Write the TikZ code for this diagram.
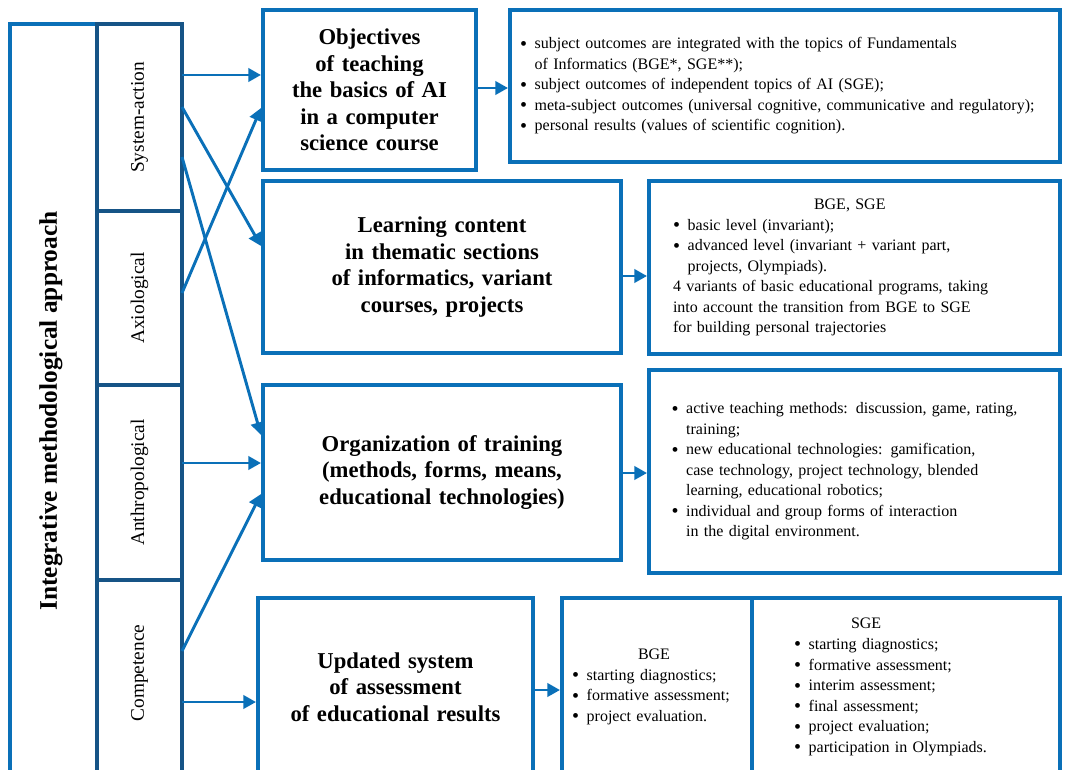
\documentclass[tikz,border=0pt]{standalone}
\usepackage{fontspec}
\setmainfont{Liberation Serif}
\usepackage{graphicx}
\usetikzlibrary{positioning,arrows.meta}
\definecolor{boxblue}{RGB}{10,112,184}
\definecolor{colblue}{RGB}{22,84,134}
\newcommand{\itm}{\makebox[11pt][l]{\raisebox{-0.2ex}{\scalebox{1.25}{\textbullet}}}}
\newcommand{\cont}{\hspace*{11pt}}

\begin{document}
\begin{tikzpicture}[x=0.75pt,y=-0.75pt,
  box/.style={draw=boxblue, line width=3pt, fill=white, align=center},
  colbox/.style={draw=colblue, line width=2.6pt, fill=white, outer sep=0pt,
    minimum width=63.75pt, font=\fontsize{14.5}{17}\selectfont},
  head/.style={box, font=\fontsize{17}{19.9}\selectfont\bfseries},
  list/.style={box, align=left, inner sep=0pt, font=\fontsize{12}{15.4}\selectfont},
  arr/.style={draw=boxblue, line width=2.2pt, -{Triangle[length=9.5pt,width=10pt]}}]
\useasboundingbox (0,0) rectangle (1066,770);
\clip (0,0) rectangle (1066,770);

% approaches
\node[box, minimum width=65.6pt, minimum height=574.5pt] (outer) at (53.25,407) {};
\node[rotate=90, font=\fontsize{19}{22}\selectfont\bfseries] (title) at (51,411) {Integrative methodological approach};
\node[colbox, minimum height=140.25pt] (sys) at (139.5,117.5) {\rotatebox{90}{System-action}};
\node[colbox, minimum height=130.5pt, below=0pt of sys] (axi) {\rotatebox{90}{Axiological}};
\node[colbox, minimum height=146.25pt, below=0pt of axi] (ant) {\rotatebox{90}{Anthropological}};
\node[colbox, minimum height=157.5pt, below=0pt of ant] (com) {\rotatebox{90}{\hspace*{18pt}Competence}};

% components
\node[head, minimum width=159.75pt, minimum height=120pt, text width=140pt] (obj) at (369.5,90)
  {Objectives\\of teaching\\the basics of AI\\in a computer\\science course};
\node[head, minimum width=268.5pt, minimum height=129pt, text width=250pt] (learn) at (442,267)
  {Learning content\\in thematic sections\\of informatics, variant\\courses, projects};
\node[head, minimum width=268.5pt, minimum height=131.25pt, text width=250pt] (org) at (442,472.5)
  {Organization of training\\(methods, forms, means,\\educational technologies)};
\node[head, minimum width=206.25pt, minimum height=133.5pt, text width=190pt] (upd) at (395.5,687)
  {Updated system\\of assessment\\of educational results};

% contents
\node[list, minimum width=412.5pt, minimum height=114pt, text width=397.5pt] (objR) at (785,86)
  {\itm subject outcomes are integrated with the topics of Fundamentals\\
   \cont of Informatics (BGE*, SGE**);\\
   \itm subject outcomes of independent topics of AI (SGE);\\
   \itm meta-subject outcomes (universal cognitive, communicative and regulatory);\\
   \itm personal results (values of scientific cognition).};
\node[list, minimum width=308.25pt, minimum height=129.75pt, text width=272.25pt] (learnR) at (854.5,267.5)
  {\hspace*{105.75pt}BGE, SGE\\
   \itm basic level (invariant);\\
   \itm advanced level (invariant + variant part,\\
   \cont projects, Olympiads).\\
   4 variants of basic educational programs, taking\\
   into account the transition from BGE to SGE\\
   for building personal trajectories};
\node[list, minimum width=308.25pt, minimum height=152.25pt, text width=274.5pt] (orgR) at (854.5,471.5)
  {\itm active teaching methods: discussion, game, rating,\\
   \cont training;\\
   \itm new educational technologies: gamification,\\
   \cont case technology, project technology, blended\\
   \cont learning, educational robotics;\\
   \itm individual and group forms of interaction\\
   \cont in the digital environment.};
\node[list, minimum width=142.5pt, minimum height=133.5pt, text width=127.5pt] (bge) at (657,687)
  {\hspace*{49.5pt}BGE\\
   \itm starting diagnostics;\\
   \itm formative assessment;\\
   \itm project evaluation.};
\node[list, minimum width=231pt, minimum height=133.5pt, text width=168pt] (sge) at (906,687)
  {\hspace*{42.75pt}SGE\\
   \itm starting diagnostics;\\
   \itm formative assessment;\\
   \itm interim assessment;\\
   \itm final assessment;\\
   \itm project evaluation;\\
   \itm participation in Olympiads.};

% links
\draw[arr] (sys.east |- 0,75) -- (obj.west |- 0,75);
\draw[arr] (sys.east |- 0,107) -- (learn.west |- 0,246);
\draw[arr] (sys.east |- 0,157) -- (org.west |- 0,435);
\draw[arr] (axi.east |- 0,293) -- (obj.west |- 0,108);
\draw[arr] (ant.east |- 0,463) -- (org.west |- 0,463);
\draw[arr] (com.east |- 0,651) -- (org.west |- 0,494);
\draw[arr] (com.east |- 0,702) -- (upd.west |- 0,702);
\draw[arr] (obj.east |- 0,88) -- (objR.west |- 0,88);
\draw[arr] (learn.east |- 0,276) -- (learnR.west |- 0,276);
\draw[arr] (org.east |- 0,473) -- (orgR.west |- 0,473);
\draw[arr] (upd.east |- 0,690) -- (bge.west |- 0,690);
\end{tikzpicture}
\end{document}
